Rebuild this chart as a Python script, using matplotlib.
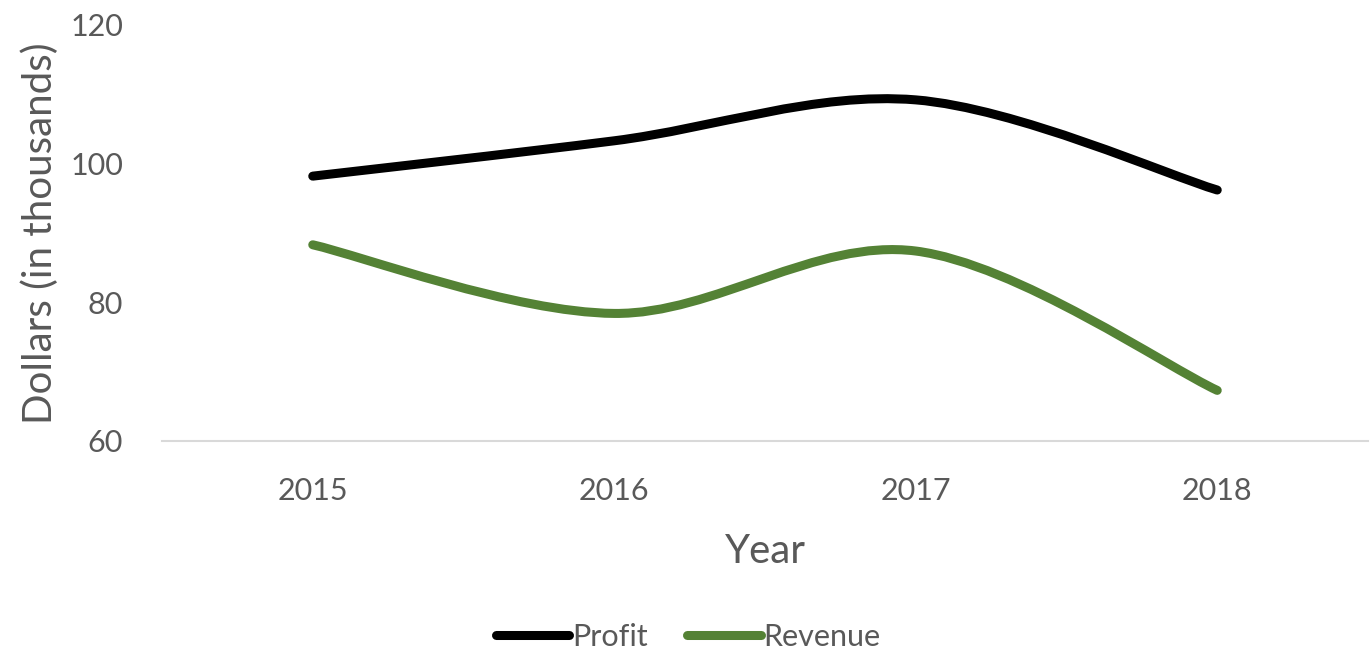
import matplotlib.pyplot as plt
from matplotlib.path import Path
from matplotlib.patches import PathPatch
from matplotlib.lines import Line2D

years = ["2015", "2016", "2017", "2018"]
profit = [98.2, 103.3, 109.2, 96.2]
revenue = [88.3, 78.4, 87.4, 67.3]

TEXT = "#595959"
GREEN = "#548235"

plt.rcParams['font.family'] = ['Lato', 'DejaVu Sans']


def smooth_path(xs, ys):
    # Catmull-Rom style bezier, like Excel's smoothed lines
    verts = [(xs[0], ys[0])]
    codes = [Path.MOVETO]
    n = len(xs)
    for i in range(n - 1):
        x0, y0 = (xs[i - 1], ys[i - 1]) if i > 0 else (xs[i], ys[i])
        x1, y1 = xs[i], ys[i]
        x2, y2 = xs[i + 1], ys[i + 1]
        x3, y3 = (xs[i + 2], ys[i + 2]) if i + 2 < n else (x2, y2)
        c1 = (x1 + (x2 - x0) / 6, y1 + (y2 - y0) / 6)
        c2 = (x2 - (x3 - x1) / 6, y2 - (y3 - y1) / 6)
        verts += [c1, c2, (x2, y2)]
        codes += [Path.CURVE4] * 3
    return Path(verts, codes)


fig = plt.figure(figsize=(13.71, 6.57), dpi=100)
ax = fig.add_axes([162 / 1371, 1 - 441 / 657, (1368 - 162) / 1371, (441 - 25) / 657])

x = list(range(len(years)))
for vals, col in [(profit, "black"), (revenue, GREEN)]:
    patch = PathPatch(smooth_path(x, vals), facecolor="none", edgecolor=col,
                      lw=6.5, capstyle="round", joinstyle="round")
    ax.add_patch(patch)

ax.set_xlim(-0.5, 3.5)
ax.set_ylim(60, 120)
ax.set_yticks([60, 80, 100, 120])
ax.set_xticks(x)
ax.set_xticklabels(years)
ax.tick_params(length=0, labelsize=22, colors=TEXT)
ax.tick_params(axis="y", pad=28)
ax.tick_params(axis="x", pad=26)
for s in ["top", "right", "left"]:
    ax.spines[s].set_visible(False)
ax.spines["bottom"].set_color("#d9d9d9")
ax.spines["bottom"].set_linewidth(1.5)

ax.set_xlabel("Year", fontsize=29, color=TEXT, labelpad=20)
ax.set_ylabel("Dollars (in thousands)", fontsize=29, color=TEXT, labelpad=8)

handles = [Line2D([], [], color="black", lw=6.5, solid_capstyle="round"),
           Line2D([], [], color=GREEN, lw=6.5, solid_capstyle="round")]
fig.legend(handles, ["Profit", "Revenue"], loc="center", bbox_to_anchor=(0.502, 1 - 637 / 657),
           ncol=2, frameon=False, fontsize=22, labelcolor=TEXT,
           handlelength=2.4, handletextpad=0.1, columnspacing=1.3)

fig.savefig("out.png", dpi=100)
